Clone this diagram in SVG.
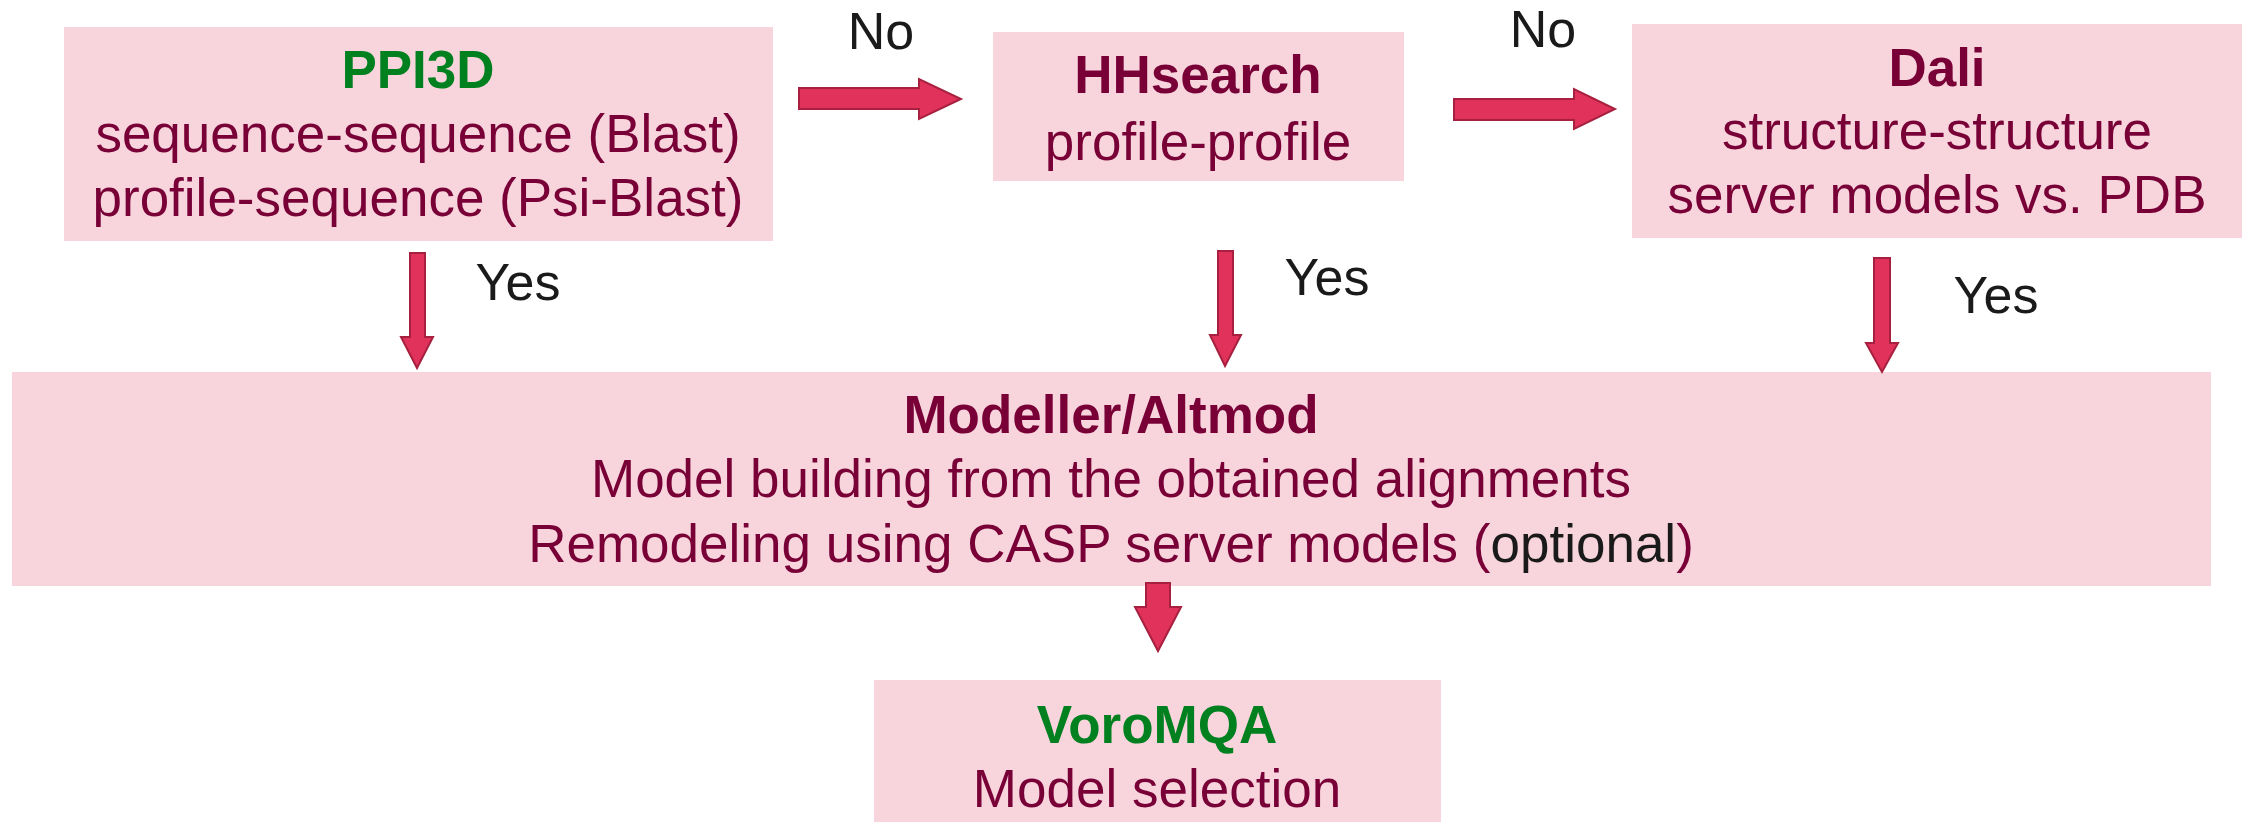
<svg xmlns="http://www.w3.org/2000/svg" width="2246" height="822" viewBox="0 0 2246 822">
<style>
.box{fill:#F8D5DD}
.t{font-family:"Liberation Sans",Arial,sans-serif;font-size:53px;fill:#780037;text-anchor:middle}
.b{font-weight:bold}
.g{fill:#00801F}
.k{fill:#1A1A1A}
.lbl{font-family:"Liberation Sans",Arial,sans-serif;font-size:52px;fill:#1A1A1A;text-anchor:middle}
.arr{fill:#E0325A;stroke:#A8203F;stroke-width:2;stroke-linejoin:miter}
</style>
<rect width="2246" height="822" fill="#FFFFFF"/>
<g id="ppi3d">
<rect class="box" x="64" y="27" width="709" height="214"/>
<text class="t b g" x="418" y="88">PPI3D</text>
<text class="t" x="418" y="152">sequence-sequence (Blast)</text>
<text class="t" x="418" y="216">profile-sequence (Psi-Blast)</text>
</g>
<g id="hhsearch">
<rect class="box" x="993" y="32" width="411" height="149"/>
<text class="t b" x="1198" y="93">HHsearch</text>
<text class="t" x="1198" y="160">profile-profile</text>
</g>
<g id="dali">
<rect class="box" x="1632" y="24" width="610" height="214"/>
<text class="t b" x="1937" y="86">Dali</text>
<text class="t" x="1937" y="149">structure-structure</text>
<text class="t" x="1937" y="213">server models vs. PDB</text>
</g>
<g id="modeller">
<rect class="box" x="12" y="372" width="2199" height="214"/>
<text class="t b" x="1111" y="433">Modeller/Altmod</text>
<text class="t" x="1111" y="497">Model building from the obtained alignments</text>
<text class="t" x="1111" y="562">Remodeling using CASP server models (<tspan class="k">optional</tspan>)</text>
</g>
<g id="voromqa">
<rect class="box" x="874" y="680" width="567" height="142"/>
<text class="t b g" x="1157" y="743">VoroMQA</text>
<text class="t" x="1157" y="807">Model selection</text>
</g>
<g id="connectors">
<polygon class="arr" points="799,88 919,88 919,79 961,99 919,119 919,109 799,109"/>
<polygon class="arr" points="1454,99 1574,99 1574,89 1615,109 1574,129 1574,120 1454,120"/>
<polygon class="arr" points="410,253 425,253 425,337 433,337 417,368 401,337 410,337"/>
<polygon class="arr" points="1218,251 1233,251 1233,335 1241,335 1225,366 1210,335 1218,335"/>
<polygon class="arr" points="1874,258 1890,258 1890,343 1898,343 1882,372 1866,343 1874,343"/>
<polygon class="arr" points="1146,583 1170,583 1170,607 1181,607 1158,651 1135,607 1146,607"/>
<text class="lbl" x="881" y="49">No</text>
<text class="lbl" x="1543" y="47">No</text>
<text class="lbl" x="518" y="300">Yes</text>
<text class="lbl" x="1327" y="295">Yes</text>
<text class="lbl" x="1996" y="313">Yes</text>
</g>
</svg>
